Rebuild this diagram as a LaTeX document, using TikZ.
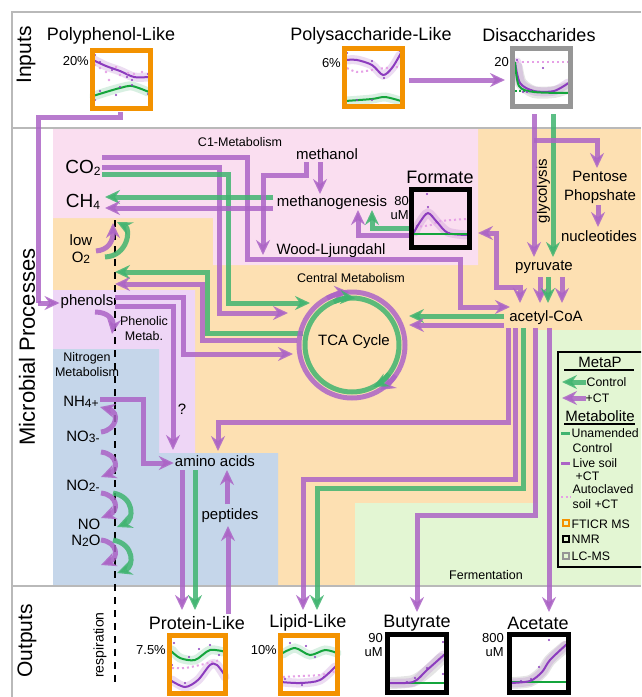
\documentclass[tikz,border=0pt]{standalone}
\usepackage{fontspec}
\setmainfont{Liberation Sans}
\usetikzlibrary{arrows.meta,positioning,calc}

\definecolor{mpurple}{RGB}{172,100,198}
\definecolor{mgreen}{RGB}{64,180,112}
\definecolor{cpurple}{RGB}{140,60,190}
\definecolor{cgreen}{RGB}{20,165,60}
\definecolor{lpink}{RGB}{250,222,240}
\definecolor{lorange}{RGB}{253,224,178}
\definecolor{llav}{RGB}{238,214,246}
\definecolor{lblue}{RGB}{197,214,234}
\definecolor{lgreen}{RGB}{227,246,211}
\definecolor{ftorange}{RGB}{243,146,0}
\definecolor{lcgray}{RGB}{150,150,150}
\definecolor{dotpink}{RGB}{230,160,230}
\definecolor{framegray}{RGB}{185,185,185}

\newcommand{\fsz}[1]{\fontsize{#1}{#1}\selectfont}
\newcommand{\lowtxt}[1]{\raisebox{-1.5pt}{\fsz{12}#1}}

\tikzset{
  pline/.style={draw=mpurple, line width=5pt, opacity=.85},
  gline/.style={draw=mgreen, line width=5pt, opacity=.85},
  parr/.style={pline, -{Stealth[length=15pt,width=14pt,inset=5pt]}},
  garr/.style={gline, -{Stealth[length=15pt,width=14pt,inset=5pt]}},
  pbiarr/.style={pline, {Stealth[length=15pt,width=14pt,inset=5pt]}-{Stealth[length=15pt,width=14pt,inset=5pt]}},
  lbl/.style={inner sep=1pt, font=\fsz{15}},
  sml/.style={inner sep=1pt, font=\fsz{12.5}},
  leg/.style={inner sep=0.5pt, font=\fsz{12.3}, anchor=west},
  big/.style={inner sep=1pt, font=\fsz{18}},
  sect/.style={inner sep=1pt, font=\fsz{21}, rotate=90},
  axl/.style={inner sep=1pt, font=\fontsize{13}{14}\selectfont, anchor=east, align=right},
  chartbox/.style={line width=5pt, minimum width=58pt, minimum height=58pt, inner sep=0pt, outer sep=0pt, anchor=north west},
  ftbox/.style={chartbox, draw=ftorange},
  nmrbox/.style={chartbox, draw=black},
  lcbox/.style={chartbox, draw=lcgray},
  pband/.style={draw=mpurple, line width=9pt, opacity=.22, line cap=round},
  gband/.style={draw=mgreen, line width=9pt, opacity=.2, line cap=round},
  kband/.style={draw=gray, line width=12pt, opacity=.2, line cap=round},
  pcurve/.style={draw=cpurple, line width=2pt},
  gcurve/.style={draw=cgreen, line width=2pt},
  dcurve/.style={draw=dotpink, line width=2pt, dash pattern=on 2pt off 3pt},
}

\begin{document}
\begin{tikzpicture}[x=1pt,y=-1pt]
\clip (0,0) rectangle (641,697);
\fill[white] (0,0) rectangle (641,697);

% regions
\fill[lorange] (53,129) rectangle (641,585);
\fill[lpink] (53,129) -- (478,129) -- (478,265) -- (213,265) -- (213,218) -- (53,218) -- cycle;
\fill[llav] (53,290) -- (195,290) -- (195,453) -- (159,453) -- (159,349) -- (53,349) -- cycle;
\fill[lblue] (53,349) -- (159,349) -- (159,453) -- (278,453) -- (278,585) -- (53,585) -- cycle;
\fill[lgreen] (537,330) -- (641,330) -- (641,585) -- (355,585) -- (355,503) -- (537,503) -- cycle;

% frame
\draw[framegray, line width=2.5pt] (641,12) -- (12,12) -- (12,697);
\draw[framegray, line width=2.5pt] (12,128) -- (641,128) (12,586) -- (641,586);
\draw[line width=1.3pt, dash pattern=on 7pt off 6pt] (115,220) -- (115,684);

% section titles
\node[sect] (inputs) at (26,55) {Inputs};
\node[sect, font=\fsz{22}] (micro) at (27,347) {Microbial Processes};
\node[sect] (outputs) at (27,641) {Outputs};

% labels
\node[big] (pphlbl) at (111,36) {Polyphenol-Like};
\node[big] (pslbl) at (371,36) {Polysaccharide-Like};
\node[big] (dslbl) at (539,35) {Disaccharides};
\node[sml] (c1) at (240,142) {C1-Metabolism};
\node[inner sep=1pt, font=\fsz{19}] (co2) at (83,168) {CO\lowtxt{2}};
\node[inner sep=1pt, font=\fsz{19}] (ch4) at (83,202) {CH\lowtxt{4}};
\node[lbl] (methanol) at (327,154) {methanol};
\node[lbl] (methgen) at (332,203) {methanogenesis};
\node[lbl] (wood) at (331,251) {Wood-Ljungdahl};
\node[big] (formlbl) at (440,177) {Formate};
\node[axl] (formax) at (410,208) {80\\uM};
\node[sml] (central) at (351,278) {Central Metabolism};
\node[lbl] (tcalbl) at (354,342) {TCA Cycle};
\node[lbl, align=center, font=\fontsize{15}{17}\selectfont] (lowo2) at (81,249) {low\\O\lowtxt{2}};
\node[lbl] (phenols) at (87,302) {phenols};
\node[sml, align=center, font=\fontsize{12.5}{15}\selectfont] (phenmet) at (144,329) {Phenolic\\Metab.};
\node[sml, align=center, font=\fontsize{12.5}{15}\selectfont] (nitmet) at (87,365) {Nitrogen\\Metabolism};
\node[lbl] (nh4) at (81,402) {NH\lowtxt{4+}};
\node[lbl] (no3) at (83,437) {NO\lowtxt{3-}};
\node[lbl] (no2) at (83,486) {NO\lowtxt{2-}};
\node[lbl] (no) at (89,524) {NO};
\node[lbl] (n2o) at (86,541) {N\lowtxt{2}O};
\node[lbl] (qmark) at (182,409) {?};
\node[lbl] (amino) at (215,461) {amino acids};
\node[lbl] (peptides) at (230,516) {peptides};
\node[lbl] (acoa) at (546,318) {acetyl-CoA};
\node[lbl] (pyruvate) at (544,267) {pyruvate};
\node[lbl, rotate=90] (glyc) at (543,191) {glycolysis};
\node[lbl, align=center, font=\fontsize{15}{19}\selectfont] (pentose) at (600,187) {Pentose\\Phopshate};
\node[lbl] (nucl) at (599,236) {nucleotides};
\node[sml] (ferm) at (486,575) {Fermentation};
\node[inner sep=1pt, font=\fsz{14}, rotate=90] (resp) at (100,645) {respiration};
\node[big] (protlbl) at (197,623) {Protein-Like};
\node[big] (liplbl) at (308,623) {Lipid-Like};
\node[big] (butlbl) at (417,623) {Butyrate};
\node[big] (acelbl) at (538,623) {Acetate};
\node[axl] (pphax) at (90,61) {20\%};
\node[axl] (psax) at (342,63) {6\%};
\node[axl] (dsax) at (510,62) {20};
\node[axl] (protax) at (167,650) {7.5\%};
\node[axl] (lipax) at (278,650) {10\%};
\node[axl] (butax) at (384,645) {90\\uM};
\node[axl] (aceax) at (505,645) {800\\uM};

% inputs
\draw[pline] (120,112) -- (120,117) -- (38,117) -- (38,303);
\draw[parr] (38,303) -- (phenols.west |- 0,303);
\draw[parr] (409,80) -- (505,80);
\draw[parr] (534,114) -- (534,257);
\draw[garr] (553,114) -- (553,257);
\draw[parr] (534,140) -- (597,140) -- (597,168);
\draw[parr] (598,205) -- (598,227);

% pyruvate and acetyl-CoA
\draw[parr] (540,277) -- (540,303);
\draw[garr] (548,277) -- (548,303);
\draw[parr] (562,277) -- (562,303);
\draw[pbiarr] (478,233) -- (496,233) -- (496,287) -- (520,287) -- (520,303);
\draw[garr] (504,316) -- (409,316);
\draw[parr] (504,325) -- (409,325);

% C1 metabolism
\draw[parr] (102,157) -- (247,157) -- (247,259) -- (460,259) -- (460,307) -- (510,307);
\draw[parr] (102,167) -- (219,167) -- (219,313) -- (288,313);
\draw[garr] (102,174) -- (228,174) -- (228,303) -- (310,303);
\draw[garr] (273,197) -- (105,197);
\draw[parr] (273,208) -- (105,208);
\draw[parr] (320,162) -- (320,194);
\draw[parr] (306,162) -- (306,175) -- (263,175) -- (263,255);
\draw[garr] (411,228) -- (372,228) -- (372,210);
\draw[parr] (411,235) -- (358,235) -- (358,210);

% oxygen and phenols
\draw[parr] (96,251) .. controls (108,250) and (113,242) .. (113,223);
\draw[garr] (105,257) .. controls (128,256) and (131,229) .. (117,222);
\draw[garr] (303,333) -- (207,333) -- (207,272) -- (115,272);
\draw[parr] (297,340) -- (202,340) -- (202,284) -- (115,284);
\draw[parr] (115,297) -- (183,297) -- (183,354) -- (293,354);
\draw[parr] (115,306) -- (173,306) -- (173,450);
\draw[parr] (95,312) .. controls (108,312) and (114,320) .. (112,334);

% nitrogen
\draw[parr] (100,399) -- (143,399) -- (143,463) -- (amino.west |- 0,463);
\draw[parr] (101,432) .. controls (117,430) and (120,412) .. (100,407);
\draw[parr] (101,452) .. controls (118,454) and (119,470) .. (101,477);
\draw[parr] (101,493) .. controls (118,495) and (119,511) .. (101,518);
\draw[garr] (113,493) .. controls (135,497) and (134,520) .. (117,527);
\draw[parr] (101,540) .. controls (118,542) and (119,558) .. (101,565);
\draw[garr] (113,540) .. controls (135,544) and (134,567) .. (117,573);

% TCA cycle
\coordinate (tca) at (352,345);
\draw[pline] (tca) circle (53);
\draw[gline] (tca) circle (47);
\draw[parr] (tca) ++(-118:53) arc (-118:-93:53);
\draw[garr] (tca) ++(-113:47) arc (-113:-86:47);
\draw[parr] (tca) ++(35:53) arc (35:58:53);
\draw[garr] (tca) ++(38:47) arc (38:63:47);

% outputs
\draw[parr] (508,328) -- (508,422) -- (218,422) -- (218,451);
\draw[parr] (515,328) -- (515,479) -- (303,479) -- (303,610);
\draw[garr] (523,328) -- (523,488) -- (317,488) -- (317,610);
\draw[parr] (535,328) -- (535,515) -- (417,515) -- (417,612);
\draw[parr] (549,328) -- (549,612);
\draw[parr] (182,470) -- (182,610);
\draw[garr] (195,470) -- (195,610);
\draw[parr] (228,614) -- (228,526);
\draw[parr] (227,504) -- (227,470);

% charts
\begin{scope}[shift={(92,50)}]
  \draw[pband] plot[smooth] coordinates {(2,10) (14,16) (28,21) (42,27) (56,27)};
  \draw[gband] plot[smooth] coordinates {(2,46) (14,42) (28,38) (40,36) (56,42)};
  \draw[pcurve] plot[smooth] coordinates {(1,10) (14,16) (28,21) (42,27) (57,27)};
  \draw[gcurve] plot[smooth] coordinates {(1,46) (14,42) (28,38) (40,36) (57,42)};
  \foreach \px/\py in {3/15,8/18,14/22,17/30,24/17,28/25,36/23,42/24,50/22}
    \fill[dotpink] (\px,\py) circle (1.4);
  \foreach \px/\py in {3/5,8/12,20/20,35/27,40/30,56/24,3/50,8/41,24/45,28/37,40/35,56/44}
    \fill[cpurple] (\px,\py) circle (1.1);
\end{scope}
\node[ftbox] (pphbox) at (92,50) {};

\begin{scope}[shift={(344,48)}]
  \draw[pband] plot[smooth] coordinates {(3,12) (13,12) (28,17) (39,27) (48,20) (56,7)};
  \draw[gband] plot[smooth] coordinates {(3,53) (28,51) (41,49) (56,53)};
  \draw[dcurve] plot[smooth] coordinates {(3,20) (13,24) (28,22) (41,20) (56,19)};
  \draw[pcurve] plot[smooth] coordinates {(1,12) (13,12) (28,17) (39,27) (48,20) (57,5)};
  \draw[gcurve] plot[smooth] coordinates {(1,53) (28,51) (41,49) (57,53)};
  \foreach \px/\py in {3/5,13/12,28/13,40/30,56/3,13/52,28/52}
    \fill[cpurple] (\px,\py) circle (1.1);
\end{scope}
\node[ftbox] (psbox) at (344,48) {};

\begin{scope}[shift={(513,48)}]
  \draw[kband] plot[smooth] coordinates {(4,20) (8,35) (21,44) (41,44) (54,40)};
  \draw[pband] plot[smooth] coordinates {(4,14) (8,35) (21,43) (41,43) (55,35)};
  \draw[dcurve] (4,14) -- (56,14);
  \draw[pcurve] plot[smooth] coordinates {(2,14) (7,35) (21,43) (41,43) (57,34)};
  \draw[gcurve] plot[smooth] coordinates {(2,14) (6,38) (21,44) (57,45)};
  \draw[cgreen, line width=1.2pt, dash pattern=on 2pt off 2pt] (2,43) -- (20,43);
  \foreach \px/\py in {4/12,10/44,14/44,18/42,30/20,56/14}
    \fill[cpurple] (\px,\py) circle (1.1);
\end{scope}
\node[lcbox] (dsbox) at (512,48) {};

\begin{scope}[shift={(411,189)}]
  \draw[pband] plot[smooth] coordinates {(4,43) (9,33) (17,24) (26,33) (37,43) (55,46)};
  \draw[dcurve] plot[smooth] coordinates {(4,38) (20,36) (30,32) (56,30)};
  \draw[pcurve] plot[smooth] coordinates {(2,45) (9,33) (17,24) (26,33) (37,44) (57,46)};
  \draw[cgreen, line width=2.5pt] (1,45) -- (57,45);
  \foreach \px/\py in {16/5,17/18,21/27,26/33,38/44,6/37}
    \fill[cpurple] (\px,\py) circle (1.1);
\end{scope}
\node[nmrbox] (formbox) at (411,189) {};

\begin{scope}[shift={(169,635)}]
  \draw[gband] plot[smooth] coordinates {(3,15) (11,23) (26,25) (41,15) (54,17)};
  \draw[pband] plot[smooth] coordinates {(3,45) (16,52) (29,45) (41,30) (48,30) (56,42)};
  \draw[dcurve] plot[smooth] coordinates {(3,33) (16,33) (31,30) (51,25)};
  \draw[gcurve] plot[smooth] coordinates {(1,15) (11,23) (26,25) (41,15) (57,17)};
  \draw[pcurve] plot[smooth] coordinates {(1,45) (16,52) (29,45) (41,30) (48,30) (57,42)};
  \foreach \px/\py in {5/8,20/22,30/14,41/10,50/20,3/30,16/48}
    \fill[cpurple] (\px,\py) circle (1.1);
\end{scope}
\node[ftbox, minimum width=56pt] (protbox) at (169.5,635.5) {};

\begin{scope}[shift={(280,635)}]
  \draw[gband] plot[smooth] coordinates {(3,19) (15,13) (30,20) (45,15) (57,18)};
  \draw[pband] plot[smooth] coordinates {(3,47) (20,48) (40,45) (55,32)};
  \draw[dcurve] plot[smooth] coordinates {(3,42) (20,41) (40,40) (56,36)};
  \draw[gcurve] plot[smooth] coordinates {(1,19) (15,13) (30,20) (45,15) (57,18)};
  \draw[pcurve] plot[smooth] coordinates {(1,47) (20,48) (40,45) (57,30)};
  \foreach \px/\py in {10/8,26/11,35/22,5/44,22/50,44/42}
    \fill[cpurple] (\px,\py) circle (1.1);
\end{scope}
\node[ftbox, minimum width=57pt] (lipbox) at (280.5,635.5) {};

\begin{scope}[shift={(387,634)}]
  \draw[kband] plot[smooth] coordinates {(4,49) (26,47) (40,38) (54,25)};
  \draw[pband] plot[smooth] coordinates {(5,49) (26,48) (40,36) (56,21)};
  \draw[gcurve, line width=2.5pt] (1,49) -- (58,49);
  \draw[pcurve] plot[smooth] coordinates {(1,49) (26,48) (40,36) (58,20)};
  \foreach \px/\py in {56/8,40/34,28/44,56/40,20/48}
    \fill[cpurple] (\px,\py) circle (1.1);
\end{scope}
\node[nmrbox, minimum width=59pt] (butbox) at (387.5,634.5) {};

\begin{scope}[shift={(509,634)}]
  \draw[kband] plot[smooth] coordinates {(4,49) (21,47) (33,38) (41,26) (56,13)};
  \draw[pband] plot[smooth] coordinates {(4,49) (21,47) (33,38) (41,26) (57,11)};
  \draw[gcurve, line width=2.5pt] (1,48) -- (58,48);
  \draw[pcurve] plot[smooth] coordinates {(1,49) (21,47) (33,38) (41,26) (58,10)};
  \foreach \px/\py in {40/6,30/33,22/45,12/47}
    \fill[cpurple] (\px,\py) circle (1.1);
\end{scope}
\node[nmrbox, minimum width=59pt] (acebox) at (509.5,634.5) {};

% legend
\draw[line width=2.5pt] (558,352) rectangle (650,567);
\node[inner sep=1pt, font=\fsz{15}] (metap) at (600,362) {MetaP};
\draw[line width=1.2pt] (564,370) -- (634,370);
\draw[garr] (586,382) -- (562,382);
\node[leg] (legctrl) at (586,382) {Control};
\draw[parr] (586,398) -- (562,398);
\node[leg] (legct) at (585,398) {+CT};
\node[inner sep=1pt, font=\fsz{15}] (metab) at (600,416) {Metabolite};
\draw[line width=1.2pt] (564,424) -- (635,424);
\draw[mgreen, line width=3pt] (561,433) -- (570,433);
\node[leg] (legun) at (571,433) {Unamended};
\node[leg] (legun2) at (572,448) {Control};
\draw[mpurple, line width=3pt] (561,463) -- (570,463);
\node[leg] (leglive) at (572,463) {Live soil};
\node[leg] (leglive2) at (575,476) {+CT};
\node[leg] (legauto) at (572,489) {Autoclaved};
\draw[dotpink, line width=2pt, dash pattern=on 2pt off 2.5pt] (561,497) -- (571,497);
\node[leg] (legauto2) at (572,504) {soil +CT};
\draw[ftorange, line width=2pt] (562.5,520) rectangle (568.5,526);
\node[leg] (legft) at (571,524) {FTICR MS};
\draw[black, line width=2pt] (562.5,536) rectangle (568.5,542);
\node[leg] (legnmr) at (571,539) {NMR};
\draw[lcgray, line width=2pt] (562.5,553) rectangle (568.5,559);
\node[leg] (leglc) at (571,556) {LC-MS};
\end{tikzpicture}
\end{document}
